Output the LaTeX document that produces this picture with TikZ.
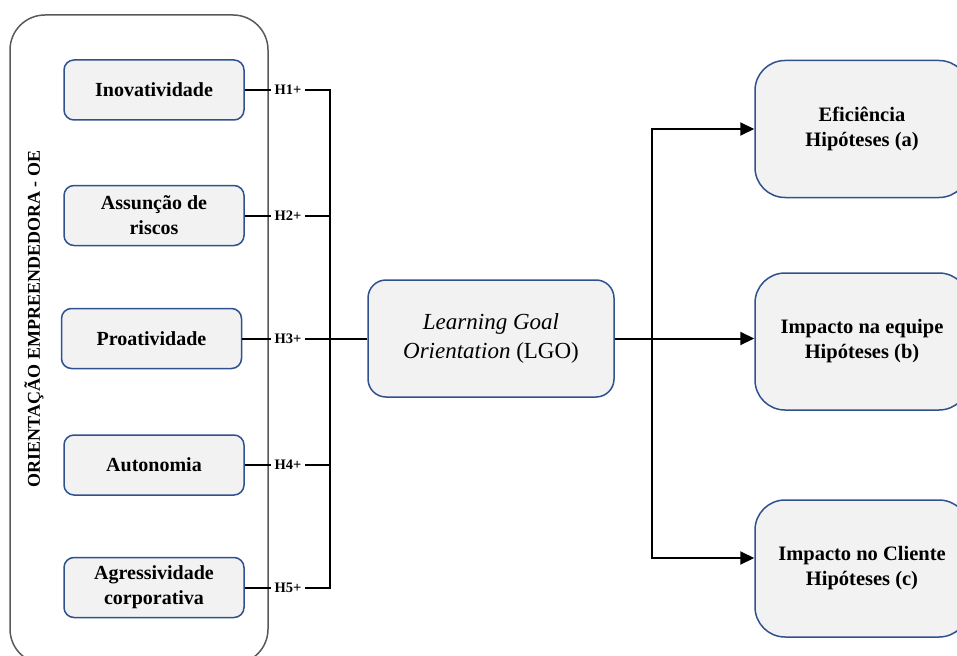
\documentclass[tikz,border=0pt]{standalone}
\usepackage{fontspec}
\setmainfont{Liberation Serif}
\usetikzlibrary{arrows.meta}

\definecolor{boxblue}{HTML}{2F528F}
\definecolor{boxfill}{HTML}{F2F2F2}
\definecolor{framegray}{HTML}{595959}

\begin{document}
\begin{tikzpicture}[x=1pt,y=-1pt,line width=1.5pt,
        every node/.style = {align=center, text=black},
        dimbox/.style = {draw=boxblue, fill=boxfill, rounded corners=10pt,
            minimum width=180pt, minimum height=60pt,
            font=\bfseries\fontsize{20}{25}\selectfont},
        hlabel/.style = {inner sep=3pt, font=\bfseries\fontsize{14.5}{17}\selectfont},
        outbox/.style = {draw=boxblue, fill=boxfill, rounded corners=30pt,
            minimum width=214pt, minimum height=137pt,
            font=\bfseries\fontsize{20.5}{25}\selectfont},
        link/.style = {draw=black, line width=2pt},
        arr/.style = {link, -{Triangle[length=14pt,width=13pt]}}]
        \useasboundingbox (0,0) rectangle (957,655);

        % frame of the construct
        \draw[framegray, line width=1.5pt, rounded corners=35pt] (10,15) rectangle (268,664);
        \node[rotate=90, font=\bfseries\fontsize{18}{20}\selectfont] (oe) at (34,319)
            {ORIENTAÇÃO EMPREENDEDORA - OE};

        % dimensions
        \node[dimbox] (1) at (154,90) {Inovatividade};
        \node[dimbox] (2) at (154,215.5) {Assunção de\\riscos};
        \node[dimbox] (3) at (151.5,338.5) {Proatividade};
        \node[dimbox] (4) at (154,465) {Autonomia};
        \node[dimbox] (5) at (154,587.5) {Agressividade\\corporativa};

        \node[hlabel] (h1) at (288,90) {H1+};
        \node[hlabel] (h2) at (288,215.5) {H2+};
        \node[hlabel] (h3) at (288,338.5) {H3+};
        \node[hlabel] (h4) at (288,465) {H4+};
        \node[hlabel] (h5) at (288,587.5) {H5+};

        \node[draw=boxblue, fill=boxfill, rounded corners=18pt,
            minimum width=246pt, minimum height=117pt,
            font=\fontsize{23}{29}\selectfont] (lgo) at (491,338.5)
            {\textit{Learning Goal}\\\textit{Orientation} (LGO)};

        % outcomes
        \node[outbox] (a) at (862,129) {Eficiência\\Hipóteses (a)};
        \node[outbox] (b) at (862,341.5) {Impacto na equipe\\Hipóteses (b)};
        \node[outbox] (c) at (862,568.5) {Impacto no Cliente\\Hipóteses (c)};

        \coordinate (bus) at (330,90);
        \coordinate (split) at (652,338.5);

        % left side
        \foreach \i in {1,...,5}
            \draw[link] (\i.east) -- (h\i.west);
        \draw[link] (h1.east) -- (h1.east -| bus) -- (h5.east -| bus) -- (h5.east);
        \foreach \i in {2,4}
            \draw[link] (h\i.east) -- (h\i.east -| bus);
        \draw[link] (h3.east) -- (lgo.west);

        % right side
        \draw[arr] (lgo.east) -- (lgo.east -| b.west);
        \draw[arr] (split) |- (a.west);
        \draw[arr] (split) |- ([yshift=10.5pt]c.west);
    \end{tikzpicture}
\end{document}
